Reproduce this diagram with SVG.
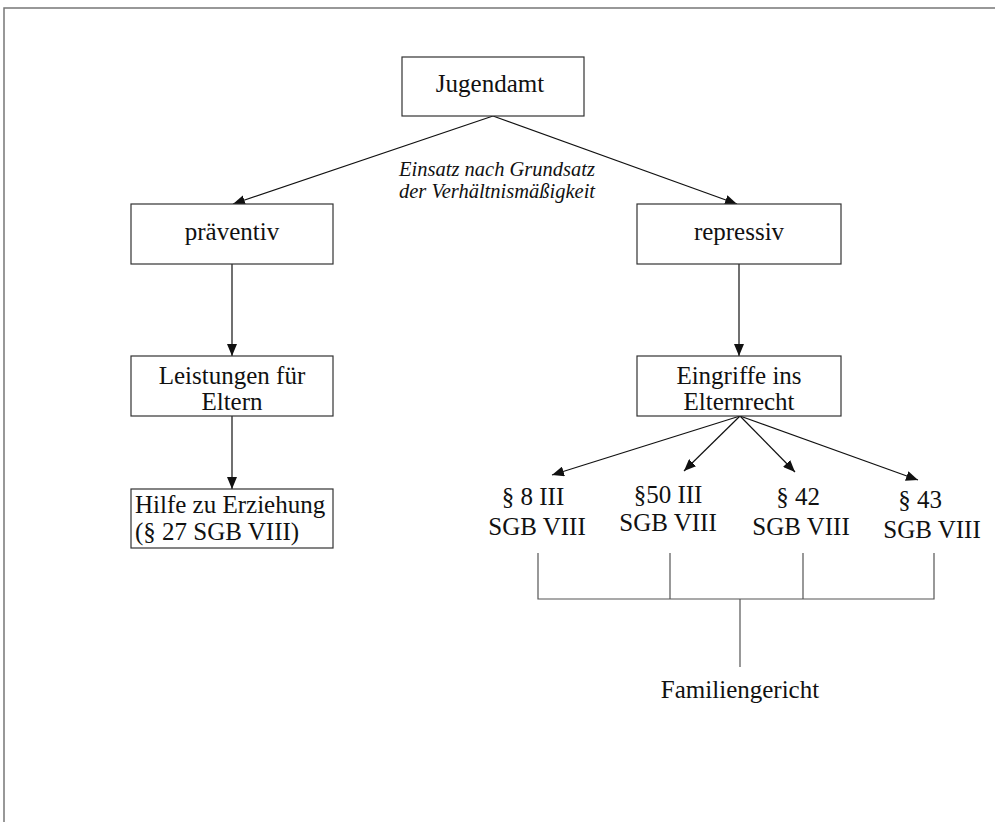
<svg xmlns="http://www.w3.org/2000/svg" width="995" height="822" viewBox="0 0 995 822">
  <style>
    .box { fill: #ffffff; stroke: #333333; stroke-width: 1.2; }
    .t { font-family: "Liberation Serif", "Times New Roman", serif; font-size: 25px; fill: #111111; }
    .c { text-anchor: middle; }
    .it { font-family: "Liberation Serif", "Times New Roman", serif; font-size: 20.5px; font-style: italic; fill: #111111; text-anchor: middle; }
    .edge { stroke: #111111; stroke-width: 1.2; fill: none; marker-end: url(#arrow); }
    .bracket { stroke: #555555; stroke-width: 1.2; fill: none; }
    .frame { stroke: #777777; stroke-width: 1.5; fill: none; }
  </style>
  <defs>
    <marker id="arrow" viewBox="0 0 12 10" refX="12" refY="5" markerWidth="12" markerHeight="10" markerUnits="userSpaceOnUse" orient="auto">
      <path d="M0,0 L12,5 L0,10 Z" fill="#111111"/>
    </marker>
  </defs>

  <rect width="995" height="822" fill="#ffffff"/>
  <path class="frame" d="M4,822 V8 H995"/>

  <g id="connectors">
    <line class="edge" x1="493" y1="116" x2="233" y2="204"/>
    <line class="edge" x1="493" y1="116" x2="737" y2="204"/>
    <line class="edge" x1="232" y1="264" x2="232" y2="356"/>
    <line class="edge" x1="739" y1="264" x2="739" y2="356"/>
    <line class="edge" x1="232" y1="416" x2="232" y2="489"/>
    <line class="edge" x1="740" y1="416" x2="552" y2="475"/>
    <line class="edge" x1="740" y1="416" x2="684" y2="471"/>
    <line class="edge" x1="740" y1="416" x2="795" y2="472"/>
    <line class="edge" x1="740" y1="416" x2="918" y2="480"/>
    <path class="bracket" d="M538,553 V599 H934 V553 M670,553 V599 M803,553 V599 M740,599 V667"/>
  </g>

  <g id="jugendamt">
    <rect class="box" x="402" y="57" width="182" height="59"/>
    <text class="t c" x="490" y="92">Jugendamt</text>
  </g>

  <g id="label-verhaeltnis">
    <text class="it" x="497" y="176">Einsatz nach Grundsatz</text>
    <text class="it" x="497" y="198">der Verhältnismäßigkeit</text>
  </g>

  <g id="praeventiv">
    <rect class="box" x="131" y="204" width="202" height="60"/>
    <text class="t c" x="232" y="240">präventiv</text>
  </g>

  <g id="repressiv">
    <rect class="box" x="637" y="204" width="204" height="60"/>
    <text class="t c" x="739" y="240">repressiv</text>
  </g>

  <g id="leistungen">
    <rect class="box" x="131" y="356" width="202" height="60"/>
    <text class="t c" x="232" y="384">Leistungen für</text>
    <text class="t c" x="232" y="410">Eltern</text>
  </g>

  <g id="eingriffe">
    <rect class="box" x="637" y="356" width="204" height="60"/>
    <text class="t c" x="739" y="384">Eingriffe ins</text>
    <text class="t c" x="739" y="410">Elternrecht</text>
  </g>

  <g id="hilfe">
    <rect class="box" x="131" y="489" width="202" height="59"/>
    <text class="t" x="135" y="513">Hilfe zu Erziehung</text>
    <text class="t" x="135" y="540">(§ 27 SGB VIII)</text>
  </g>

  <g id="par8">
    <text class="t c" x="533" y="505">§ 8 III</text>
    <text class="t c" x="537" y="535">SGB VIII</text>
  </g>

  <g id="par50">
    <text class="t c" x="668" y="503">§50 III</text>
    <text class="t c" x="668" y="531">SGB VIII</text>
  </g>

  <g id="par42">
    <text class="t c" x="798" y="505">§ 42</text>
    <text class="t c" x="801" y="535">SGB VIII</text>
  </g>

  <g id="par43">
    <text class="t c" x="920" y="508">§ 43</text>
    <text class="t c" x="932" y="538">SGB VIII</text>
  </g>

  <g id="familiengericht">
    <text class="t c" x="740" y="698">Familiengericht</text>
  </g>
</svg>
